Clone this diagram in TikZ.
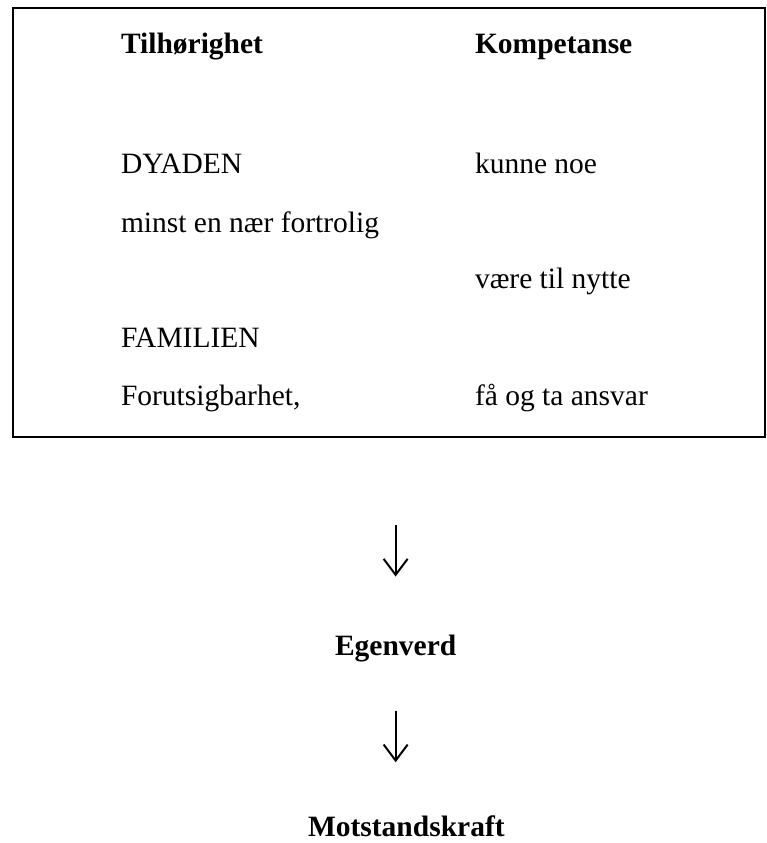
\documentclass[tikz,border=0pt]{standalone}
\usepackage{fontspec}
\setmainfont{Liberation Serif}
\usetikzlibrary{arrows.meta}
\begin{document}
\begin{tikzpicture}[x=1pt,y=1pt,
  txt/.style={anchor=base west,inner sep=0pt,outer sep=0pt,font=\fontsize{29.5}{35}\selectfont},
  hdr/.style={txt,font=\fontsize{29.5}{35}\selectfont\bfseries},
  frame/.style={draw=black,line width=2pt,inner sep=0pt,outer sep=0pt},
  arr/.style={line width=2pt,-{Straight Barb[length=16pt,width=24pt,line width=2pt]}}]
\useasboundingbox (0,0) rectangle (767,-843);
\node[frame,minimum width=752pt,minimum height=429pt] (box) at (389,-222.5) {};
\node[hdr] (hl) at (121,-54) {Tilhørighet};
\node[hdr] (hr) at (475,-54) {Kompetanse};
\node[txt] (dyaden) at (121,-173) {DYADEN};
\node[txt] (kunne) at (475,-173) {kunne noe};
\node[txt] (minst) at (121,-232) {minst en nær fortrolig};
\node[txt] (vaere) at (475,-288) {være til nytte};
\node[txt] (familien) at (121,-347) {FAMILIEN};
\node[txt] (forut) at (121,-405) {Forutsigbarhet,};
\node[txt] (faa) at (475,-405) {få og ta ansvar};
\node[hdr] (egen) at (335,-655) {Egenverd};
\node[hdr] (motst) at (308,-836) {Motstandskraft};
\draw[arr,shorten <=88pt,shorten >=58pt] (box.south -| egen.north) -- (egen.north);
\draw[arr,shorten <=49pt,shorten >=53pt] (egen.south) -- (egen.south |- motst.north);
\end{tikzpicture}
\end{document}
